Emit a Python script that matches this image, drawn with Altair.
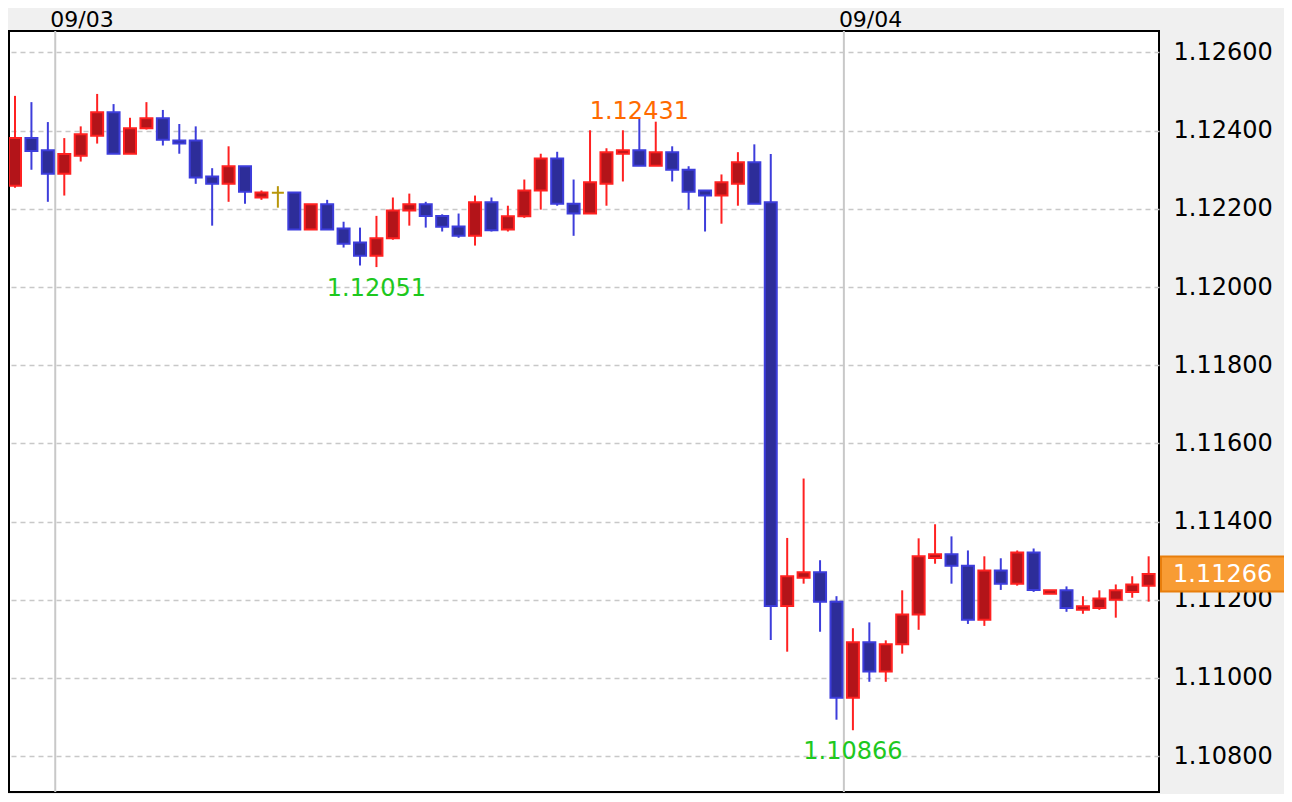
import altair as alt
import pandas as pd

# ---- data (30-minute candles) ----
opens = [1.12259, 1.12381, 1.12350, 1.12290, 1.12336, 1.12387, 1.12447, 1.12341, 1.12406, 1.12432,
         1.12375, 1.12375, 1.12283, 1.12264, 1.12309, 1.12229, 1.12241, 1.12242, 1.12147, 1.12212,
         1.12150, 1.12114, 1.12080, 1.12125, 1.12196, 1.12212, 1.12182, 1.12155, 1.12131, 1.12217,
         1.12147, 1.12181, 1.12247, 1.12329, 1.12213, 1.12188, 1.12264, 1.12341, 1.12350, 1.12310,
         1.12345, 1.12300, 1.12247, 1.12234, 1.12264, 1.12319, 1.12217, 1.11184, 1.11256, 1.11270,
         1.11195, 1.10949, 1.11091, 1.11016, 1.11086, 1.11162, 1.11307, 1.11316, 1.11287, 1.11149,
         1.11275, 1.11241, 1.11321, 1.11215, 1.11224, 1.11174, 1.11179, 1.11200, 1.11220, 1.11236]
highs = [1.12489, 1.12473, 1.12422, 1.12381, 1.12411, 1.12494, 1.12468, 1.12433, 1.12473, 1.12453,
         1.12417, 1.12411, 1.12304, 1.12360, 1.12309, 1.12247, 1.12258, 1.12242, 1.12212, 1.12223,
         1.12167, 1.12152, 1.12182, 1.12229, 1.12239, 1.12218, 1.12186, 1.12188, 1.12234, 1.12229,
         1.12208, 1.12275, 1.12341, 1.12346, 1.12275, 1.12401, 1.12355, 1.12401, 1.12431, 1.12423,
         1.12360, 1.12309, 1.12247, 1.12288, 1.12345, 1.12365, 1.12340, 1.11358, 1.11510, 1.11301,
         1.11209, 1.11127, 1.11142, 1.11096, 1.11224, 1.11357, 1.11393, 1.11362, 1.11326, 1.11311,
         1.11306, 1.11326, 1.11331, 1.11224, 1.11234, 1.11209, 1.11224, 1.11239, 1.11260, 1.11311]
lows = [1.12254, 1.12300, 1.12218, 1.12234, 1.12321, 1.12367, 1.12341, 1.12341, 1.12403, 1.12362,
        1.12341, 1.12264, 1.12157, 1.12218, 1.12213, 1.12223, 1.12203, 1.12147, 1.12147, 1.12147,
        1.12101, 1.12055, 1.12051, 1.12121, 1.12157, 1.12152, 1.12142, 1.12126, 1.12106, 1.12142,
        1.12142, 1.12177, 1.12198, 1.12208, 1.12131, 1.12188, 1.12208, 1.12270, 1.12310, 1.12310,
        1.12270, 1.12198, 1.12142, 1.12162, 1.12208, 1.12213, 1.11097, 1.11067, 1.11241, 1.11118,
        1.10893, 1.10866, 1.10990, 1.10990, 1.11062, 1.11123, 1.11292, 1.11241, 1.11138, 1.11133,
        1.11225, 1.11236, 1.11220, 1.11215, 1.11169, 1.11164, 1.11174, 1.11154, 1.11205, 1.11195]
closes = [1.12381, 1.12348, 1.12290, 1.12340, 1.12391, 1.12447, 1.12341, 1.12406, 1.12432, 1.12377,
          1.12367, 1.12280, 1.12264, 1.12309, 1.12244, 1.12242, 1.12241, 1.12147, 1.12212, 1.12147,
          1.12111, 1.12080, 1.12125, 1.12196, 1.12212, 1.12182, 1.12154, 1.12131, 1.12217, 1.12145,
          1.12181, 1.12247, 1.12329, 1.12213, 1.12188, 1.12268, 1.12345, 1.12350, 1.12310, 1.12345,
          1.12300, 1.12244, 1.12234, 1.12268, 1.12319, 1.12213, 1.11184, 1.11260, 1.11270, 1.11195,
          1.10949, 1.11091, 1.11016, 1.11086, 1.11162, 1.11311, 1.11316, 1.11287, 1.11149, 1.11275,
          1.11241, 1.11321, 1.11225, 1.11224, 1.11179, 1.11183, 1.11203, 1.11224, 1.11239, 1.11266]

# day separators (fractional candle index) and their labels
day_pos = [2.45, 50.45]
day_labels = ["09/03", "09/04"]

# marked extremes
mark_idx = [38, 22, 51]
mark_price = [1.12431, 1.12051, 1.10866]
mark_kind = ["high", "low", "low"]

# price axis ticks
tick_values = [1.108, 1.110, 1.112, 1.114, 1.116, 1.118, 1.120, 1.122, 1.124, 1.126]

FONT = "DejaVu Sans"

df = pd.DataFrame({"i": list(range(len(opens))), "open": opens, "high": highs,
                   "low": lows, "close": closes})
days = pd.DataFrame({"pos": day_pos, "label": day_labels})
marks = pd.DataFrame({"i": mark_idx, "price": mark_price, "kind": mark_kind,
                      "label": [f"{p:.5f}" for p in mark_price]})
last = pd.DataFrame({"price": [closes[-1]], "label": [f"{closes[-1]:.5f}"]})

xscale = alt.Scale(domain=[-0.365, 69.63], nice=False, zero=False, padding=0)
yscale = alt.Scale(domain=[1.10708, 1.12655], nice=False, zero=False, padding=0)
dir_dom = ["up", "down", "flat"]
stroke_scale = alt.Scale(domain=dir_dom, range=["#ff2121", "#3d3ddb", "#b8960a"])
fill_scale = alt.Scale(domain=dir_dom, range=["#b31419", "#2d2d99", "#b8960a"])

yaxis = alt.Axis(orient="right", values=tick_values, format=".5f", grid=True,
                 gridDash=[5, 4], gridColor="#c8c8c8", gridWidth=1.5,
                 ticks=False, domain=False, labelFont=FONT, labelFontSize=24,
                 labelColor="black", labelPadding=14, title=None)


def X(field):
    return alt.X(field, type="quantitative", scale=xscale, axis=None)


def Y(field):
    return alt.Y(field, type="quantitative", scale=yscale, axis=yaxis)


base = alt.Chart(df).transform_calculate(
    dir="datum.close > datum.open ? 'up' : (datum.close < datum.open ? 'down' : 'flat')"
)

daylines = alt.Chart(days).mark_rule(color="#c8c8c8", strokeWidth=2).encode(
    x=X("pos")
)

daytext = alt.Chart(days).mark_text(align="left", baseline="alphabetic", dx=-5,
                                    font=FONT, fontSize=22, color="black").encode(
    x=X("pos"),
    y=alt.value(-4),
    text="label:N",
)

wicks = base.mark_rule(strokeWidth=2, clip=True).encode(
    x=X("i"),
    y=Y("low"),
    y2="high:Q",
    stroke=alt.Stroke("dir:N", scale=stroke_scale, legend=None),
)

bodies = base.mark_bar(size=12, strokeWidth=2, clip=True).encode(
    x=X("i"),
    y=Y("open"),
    y2="close:Q",
    fill=alt.Fill("dir:N", scale=fill_scale, legend=None),
    stroke=alt.Stroke("dir:N", scale=stroke_scale, legend=None),
)

hi_text = alt.Chart(marks).transform_filter("datum.kind == 'high'").mark_text(
    align="center", baseline="alphabetic", dy=0, font=FONT, fontSize=24, color="#ff6a00"
).encode(x=X("i"), y=Y("price"), text="label:N")

lo_text = alt.Chart(marks).transform_filter("datum.kind == 'low'").mark_text(
    align="center", baseline="alphabetic", dy=29, font=FONT, fontSize=24, color="#1ec81e"
).encode(x=X("i"), y=Y("price"), text="label:N")

tag_border = alt.Chart(last).mark_rule(strokeWidth=37, color="#e87e0c", strokeCap="butt").encode(
    x=alt.value(1151), x2=alt.value(1290), y=Y("price")
)
tag_fill = alt.Chart(last).mark_rule(strokeWidth=33, color="#f89c34", strokeCap="butt").encode(
    x=alt.value(1153), x2=alt.value(1288), y=Y("price")
)
tag_text = alt.Chart(last).mark_text(align="left", baseline="middle", font=FONT,
                                     fontSize=24, color="white", dy=1).encode(
    x=alt.value(1164), y=Y("price"), text="label:N"
)

chart = alt.layer(
    daylines, wicks, bodies, hi_text, lo_text, daytext, tag_border, tag_fill, tag_text
).properties(
    width=1150, height=761,
    padding={"left": 1, "top": 23, "right": 125, "bottom": 2},
    autosize=alt.AutoSizeParams(type="none"),
    background="#f0f0f0",
).configure_view(fill="white", stroke="black", strokeWidth=2)

chart.save("out.html", embed_options={"renderer": "svg", "actions": False})
